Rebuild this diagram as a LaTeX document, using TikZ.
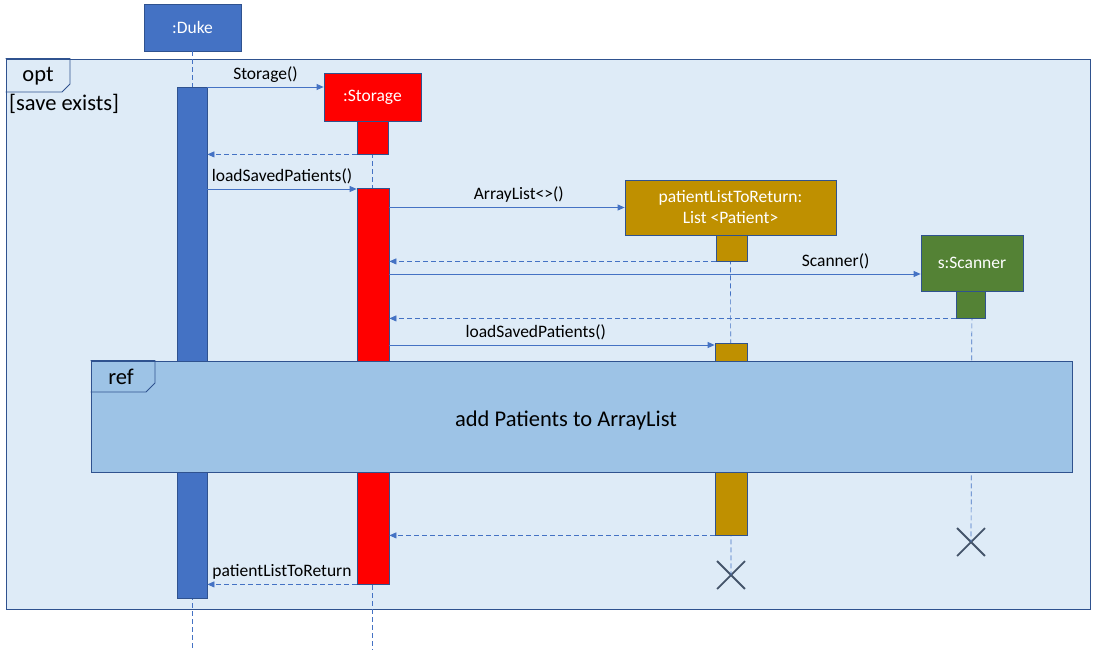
\documentclass[tikz,border=0pt]{standalone}
\usepackage{fontspec}
\setmainfont{Carlito}
\usetikzlibrary{fit, arrows.meta, shapes.misc}

\definecolor{dukeblue}{HTML}{4472C4}
\definecolor{edge}{HTML}{2F528F}
\definecolor{storered}{HTML}{FF0000}
\definecolor{listgold}{HTML}{BF9000}
\definecolor{scangreen}{HTML}{548235}
\definecolor{framefill}{HTML}{DEEBF7}
\definecolor{reffill}{HTML}{9DC3E6}
\definecolor{crossgray}{HTML}{44546A}

\begin{document}
\begin{tikzpicture}[x = 1pt, y = -1pt,
                > = {Triangle[length=7pt, width=6pt]}, % arrow head style
                font = \fontsize{17.5}{21}\selectfont
            ]

            \tikzstyle{box}=[draw = edge, rectangle, inner sep = 0pt,
            text = white, line width = 0.8pt]
            \tikzstyle{msg}=[->, draw = dukeblue, line width = 0.8pt]
            \tikzstyle{ret}=[msg, dash pattern = on 5pt off 3pt]
            \tikzstyle{life}=[draw = dukeblue, dash pattern = on 5pt off 3pt,
            line width = 0.7pt]
            \tikzstyle{big}=[font = \fontsize{22.5}{27}\selectfont]

            \useasboundingbox (0,0) rectangle (1099,659);

            % opt frame
            \node (opt) [draw = edge, fill = framefill, line width = 0.8pt,
            inner sep = 0pt, fit = {(6,59) (1090,609)}] {};
            \draw[edge, line width = 0.8pt] (opt.north west) -| (70,84) -- (62,92)
            -- (opt.west |- 0,92);
            \node[big] at (38,76) {opt};
            \node[big, anchor = west, inner sep = 0pt] at (9,104) {[save exists]};

            % objects
            \node (duke) [box, fill = dukeblue, fit = {(144,4) (241,51)}] {};
            \node[text = white] at (duke) {:Duke};
            \node (store) [box, fill = storered, fit = {(324,73) (421,121)}] {};
            \node[text = white] at (store) {:Storage};
            \node (plist) [box, fill = listgold, fit = {(625,180) (836,235)}] {};
            \node[text = white, align = center] at (plist)
            {patientListToReturn:\\List <Patient>};
            \node (scan) [box, fill = scangreen, fit = {(921,235) (1023,291)}] {};
            \node[text = white] at (scan) {s:Scanner};

            % ends of life
            \node (end1) [cross out, draw = crossgray, line width = 1.8pt,
            minimum size = 26pt, inner sep = 0pt] at (731,575) {};
            \node (end2) [cross out, draw = crossgray, line width = 1.8pt,
            minimum size = 26pt, inner sep = 0pt] at (971,542) {};

            % lifelines
            \draw[life] (duke.south) -- (duke.south |- 0,650);
            \draw[life] (store.south) -- (store.south |- 0,650);
            \draw[life] (plist.south) -- (end1.center);
            \draw[life] (scan.south) -- (end2.center);

            % activations
            \node (dukeact) [box, fill = dukeblue, fit = {(177,87) (207,598)}] {};
            \node (storeact1) [box, fill = storered, fit = {(357,121) (388,154)}] {};
            \node (storeact2) [box, fill = storered, fit = {(357,188) (389,584)}] {};
            \node (plistact1) [box, fill = listgold, fit = {(716,235) (747,261)}] {};
            \node (plistact2) [box, fill = listgold, fit = {(715,343) (747,535)}] {};
            \node (scanact1) [box, fill = scangreen, fit = {(956,291) (985,318)}] {};

            % messages
            \draw[msg] (dukeact.east |- 0,87) -- node[above = 1pt] {Storage()}
            (store.west |- 0,87);
            \draw[ret] (storeact1.south west) -- (dukeact.east |- storeact1.south);
            \draw[msg] (dukeact.east |- 0,189) -- node[above = 1pt]
            {loadSavedPatients()} (storeact2.west |- 0,189);
            \draw[msg] (storeact2.east |- plist.west) -- node[above = 1pt, pos = 0.55]
            {ArrayList<>()} (plist.west);
            \draw[ret] (plistact1.south west) -- (storeact2.east |- plistact1.south);
            \draw[msg] (storeact2.east |- 0,274) -- node[above = 1pt, pos = 0.84]
            {Scanner()} (scan.west |- 0,274);
            \draw[ret] (scanact1.south west) -- (storeact2.east |- scanact1.south);
            \draw[msg] (storeact2.east |- 0,345) -- node[above = 1pt, pos = 0.45]
            {loadSavedPatients()} (plistact2.west |- 0,345);
            \draw[ret] (plistact2.south west) -- (storeact2.east |- plistact2.south);
            \draw[ret] (storeact2.south west) -- node[above = 1pt]
            {patientListToReturn} (dukeact.east |- storeact2.south);

            % ref frame
            \node (ref) [draw = edge, fill = reffill, line width = 0.8pt,
            inner sep = 0pt, fit = {(91,361) (1072,472)}] {};
            \draw[edge, line width = 0.8pt] (ref.north west) -| (155,383) -- (146,392)
            -- (ref.west |- 0,392);
            \node[big] at (121,377) {ref};
            \node[big] at (566,420) {add Patients to ArrayList};

        \end{tikzpicture}
\end{document}
